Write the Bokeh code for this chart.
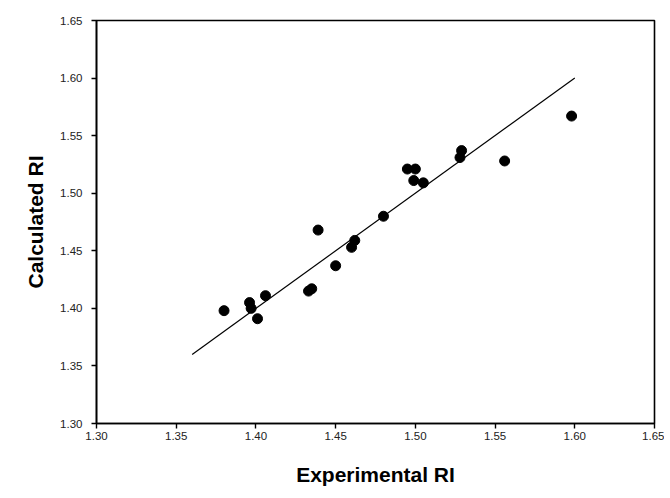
from bokeh.plotting import figure
from bokeh.models import Range1d, FixedTicker, PrintfTickFormatter
from bokeh.embed import file_html
from bokeh.resources import INLINE

# Data
exp_ri = [1.380, 1.396, 1.397, 1.401, 1.406, 1.433, 1.435, 1.439, 1.450,
          1.460, 1.462, 1.480, 1.495, 1.500, 1.499, 1.505, 1.528, 1.529,
          1.556, 1.598]
calc_ri = [1.398, 1.405, 1.400, 1.391, 1.411, 1.415, 1.417, 1.468, 1.437,
           1.453, 1.459, 1.480, 1.521, 1.521, 1.511, 1.509, 1.531, 1.537,
           1.528, 1.567]
fit_x = [1.36, 1.60]
fit_y = [1.36, 1.60]
tick_vals = [1.30, 1.35, 1.40, 1.45, 1.50, 1.55, 1.60, 1.65]

FONT = "Liberation Sans"

p = figure(width=664, height=492, frame_width=558, frame_height=403,
           x_range=Range1d(1.30, 1.65), y_range=Range1d(1.30, 1.65),
           output_backend="svg", toolbar_location=None,
           min_border_left=96, min_border_top=20, min_border_right=10,
           min_border_bottom=60)

p.line(fit_x, fit_y, line_color="black", line_width=1.2)
p.scatter(exp_ri, calc_ri, size=10, marker="circle", fill_color="black",
          line_color="black")

p.xgrid.visible = False
p.ygrid.visible = False
p.outline_line_color = "black"
p.outline_line_width = 1.6
p.outline_line_alpha = 1.0

for ax in (p.xaxis[0], p.yaxis[0]):
    ax.ticker = FixedTicker(ticks=tick_vals)
    ax.formatter = PrintfTickFormatter(format="%.2f")
    ax.minor_tick_line_color = None
    ax.major_tick_in = 0
    ax.major_tick_out = 5
    ax.major_tick_line_width = 1.4
    ax.axis_line_width = 1.6
    ax.axis_line_color = "black"
    ax.major_label_text_font = FONT
    ax.major_label_text_font_size = "11.5px"
    ax.major_label_text_color = "#222222"
    ax.axis_label_text_font = FONT
    ax.axis_label_text_font_style = "bold"
    ax.axis_label_text_font_size = "21px"
    ax.axis_label_text_color = "black"

p.xaxis.axis_label = "Experimental RI"
p.yaxis.axis_label = "Calculated RI"
p.xaxis.major_label_standoff = 3
p.xaxis.axis_label_standoff = 20
p.yaxis.major_label_standoff = 9
p.yaxis.axis_label_standoff = 10

open("out.html", "w").write(file_html(p, INLINE))
